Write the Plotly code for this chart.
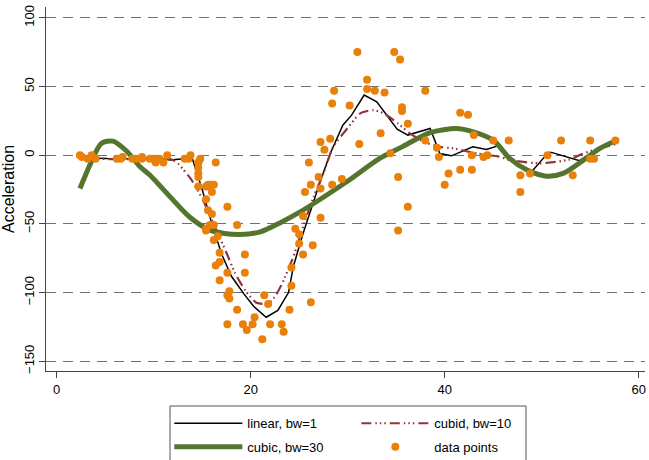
import plotly.graph_objects as go

# mcycle data points
times = [2.4, 2.6, 3.2, 3.6, 4.0, 6.2, 6.6, 6.8, 7.8, 8.2, 8.8, 8.8, 9.6, 10.0, 10.2, 10.6, 11.0, 11.4,
         13.2, 13.6, 13.8, 14.6, 14.6, 14.6, 14.6, 14.6, 14.6, 14.8, 15.4, 15.4, 15.4, 15.4, 15.6, 15.6,
         15.8, 15.8, 16.0, 16.0, 16.2, 16.2, 16.2, 16.4, 16.4, 16.6, 16.8, 16.8, 16.8, 17.6, 17.6, 17.6,
         17.6, 17.8, 17.8, 18.6, 18.6, 19.2, 19.4, 19.4, 19.6, 20.2, 20.4, 21.2, 21.4, 21.8, 22.0, 23.2,
         23.4, 24.0, 24.2, 24.2, 24.6, 25.0, 25.0, 25.4, 25.4, 25.6, 26.0, 26.2, 26.2, 26.4, 27.0, 27.2,
         27.2, 27.2, 27.6, 28.2, 28.4, 28.4, 28.6, 29.4, 30.2, 31.0, 31.2, 32.0, 32.0, 32.8, 33.4, 33.8,
         34.4, 34.8, 35.2, 35.2, 35.4, 35.6, 35.6, 36.2, 36.2, 38.0, 38.0, 39.2, 39.4, 40.0, 40.4, 41.6,
         41.6, 42.4, 42.8, 42.8, 43.0, 44.0, 44.4, 45.0, 46.6, 47.8, 47.8, 48.8, 50.6, 52.0, 53.2, 55.0,
         55.0, 55.4, 57.6]
accel = [0.0, -1.3, -2.7, 0.0, -2.7, -2.7, -2.7, -1.3, -2.7, -2.7, -1.3, -2.7, -2.7, -2.7, -5.4, -2.7,
         -5.4, 0.0, -2.7, -2.7, 0.0, -13.3, -5.4, -5.4, -9.3, -16.0, -22.8, -2.7, -22.8, -32.1, -53.5,
         -54.9, -40.2, -21.5, -21.5, -50.8, -42.9, -26.8, -21.5, -50.8, -61.7, -5.4, -80.4, -59.0, -71.0,
         -91.1, -77.7, -37.5, -85.6, -123.1, -101.9, -99.1, -104.4, -112.5, -50.8, -123.1, -85.6, -72.3,
         -127.2, -123.1, -117.9, -134.0, -101.9, -108.4, -123.1, -123.1, -128.5, -112.5, -95.1, -81.8,
         -53.5, -64.4, -57.6, -72.3, -44.3, -26.8, -5.4, -107.1, -21.5, -65.6, -16.0, -45.6, -24.2, 9.5,
         4.0, 12.0, -21.5, 37.5, 46.9, -17.4, 36.2, 75.0, 8.1, 54.9, 48.2, 46.9, 16.0, 45.6, 1.3, 75.0,
         -16.0, -54.9, 69.6, 34.8, 32.1, -37.5, 22.8, 46.9, 10.7, 5.4, -1.3, -21.5, -13.3, 30.8, -10.7,
         29.4, 0.0, -10.7, 14.7, -1.3, 0.0, 10.7, 10.7, -26.8, -14.7, -13.3, 0.0, 10.7, -14.7, -2.7, 10.7,
         -2.7, 10.7]

# smooth "linear, bw=1"
lin_x = [2.4, 3.5, 5.2, 7.0, 9.0, 10.0, 11.7, 13.4, 13.9, 15.0, 16.0, 17.0, 18.0, 19.3, 20.3, 21.6,
         22.8, 23.9, 24.4, 25.4, 26.5, 27.1, 28.2, 29.5, 30.4, 31.7, 33.0, 35.1, 36.2, 38.5, 39.5,
         40.7, 42.9, 44.3, 45.4, 46.6, 48.5, 48.8, 50.7, 51.0, 53.9, 55.0, 56.4, 57.6]
lin_y = [-1.0, -2.0, -2.4, -2.5, -2.7, -1.5, -3.6, -2.4, -0.7, -25.0, -50.0, -72.0, -88.0, -101.0,
         -110.0, -118.0, -113.0, -100.0, -81.0, -57.0, -33.0, -20.6, 1.2, 21.8, 29.1, 43.7, 38.8,
         18.9, 14.6, 19.4, 1.2, -0.5, 6.0, 4.1, 6.6, -2.0, -12.1, -13.4, 2.0, 2.0, -4.0, 1.0, 6.0, 10.0]

# smooth "cubid, bw=10"
cub10_x = [2.4, 4.0, 6.0, 8.0, 10.0, 11.8, 12.5, 13.0, 13.9, 15.1, 16.3, 17.5, 18.4, 19.5, 20.6,
           21.8, 22.5, 23.2, 24.4, 25.5, 26.5, 27.5, 28.5, 30.1, 31.3, 32.6, 33.7, 35.2, 36.4, 37.5,
           38.5, 39.5, 40.9, 43.3, 45.7, 46.7, 48.1, 49.8, 51.5, 52.9, 54.3, 56.0, 57.6]
cub10_y = [-2.0, -2.5, -3.0, -3.0, -3.0, -3.0, -6.0, -10.0, -18.0, -33.0, -52.0, -71.0, -86.0, -99.0,
           -107.5, -108.0, -103.0, -94.0, -74.0, -50.0, -30.0, -13.3, 6.0, 20.6, 30.4, 32.8, 30.4,
           23.0, 15.8, 11.0, 8.0, 6.0, 4.9, 1.2, -1.2, -3.6, -4.9, -6.0, -4.9, -3.1, 1.2, 5.0, 8.0]

# smooth "cubic, bw=30"
cub30_x = [2.4, 3.5, 4.6, 5.8, 7.2, 8.6, 9.6, 11.7, 13.7, 15.8, 17.3, 18.9, 21.0, 23.2, 25.1, 26.5,
           29.9, 33.3, 35.6, 38.5, 41.2, 42.6, 45.0, 46.7, 48.5, 50.5, 52.2, 54.3, 56.0, 57.4]
cub30_y = [-24.3, -6.0, 8.5, 10.2, 3.0, -8.5, -14.5, -30.4, -45.0, -54.6, -57.0, -57.8, -55.8, -48.6,
           -41.3, -35.2, -19.4, -2.4, 6.0, 16.4, 19.4, 17.7, 10.9, -2.4, -10.9, -15.3, -13.3, -3.6,
           4.9, 9.7]

fig = go.Figure()
fig.add_trace(go.Scatter(x=lin_x, y=lin_y, mode="lines", name="linear, bw=1", legend="legend",
                         line=dict(color="black", width=1.5)))
fig.add_trace(go.Scatter(x=cub10_x, y=cub10_y, mode="lines", name="cubid, bw=10", legend="legend",
                         line=dict(color="#90353B", width=2.2, shape="spline", smoothing=0.6,
                                   dash="10px,4px,1.5px,3px,1.5px,3px,1.5px,4px")))
fig.add_trace(go.Scatter(x=cub30_x, y=cub30_y, mode="lines", name="cubic, bw=30", legend="legend2",
                         line=dict(color="#55752F", width=5, shape="spline", smoothing=0.8)))
fig.add_trace(go.Scatter(x=times, y=accel, mode="markers", name="data points", legend="legend2",
                         marker=dict(color="#E8800A", size=8)))

axis_col = "#444444"
leg_common = dict(orientation="h", xref="container", yref="container",
                  x=0.2609, xanchor="left", yanchor="middle",
                  borderwidth=0, bgcolor="rgba(0,0,0,0)",
                  entrywidth=104, entrywidthmode="pixels", itemwidth=68,
                  traceorder="normal", font=dict(size=13))
fig.update_layout(
    width=649, height=460,
    margin=dict(l=46, r=4, t=7, b=89, autoexpand=False),
    plot_bgcolor="white", paper_bgcolor="white",
    font=dict(family="Liberation Sans, Arial, sans-serif", size=13, color="black"),
    showlegend=True,
    legend=dict(y=1 - 423.3 / 460, **leg_common),
    legend2=dict(y=1 - 446.7 / 460, **leg_common),
    shapes=[dict(type="rect", xref="paper", yref="paper",
                 x0=(170 - 46) / 599, x1=(526 - 46) / 599,
                 y0=(371 - 406) / 364, y1=(371 - 466) / 364,
                 line=dict(color="#555555", width=1), fillcolor="rgba(0,0,0,0)", layer="below")],
)
fig.update_xaxes(range=[-1.1, 60.65], showline=True, linecolor=axis_col, linewidth=1,
                 ticks="outside", ticklen=6, tickcolor=axis_col, tickvals=[0, 20, 40, 60],
                 showgrid=False, zeroline=False, automargin=False)
fig.update_yaxes(range=[-157.1, 107.8], showline=True, linecolor=axis_col, linewidth=1,
                 ticks="outside", ticklen=6, tickcolor=axis_col,
                 tickvals=[-150, -100, -50, 0, 50, 100], tickangle=-90,
                 showgrid=True, gridcolor="#707070", gridwidth=1, griddash="10px,7px",
                 zeroline=False, automargin=False,
                 title=dict(text="Acceleration", standoff=3))

fig.write_html("out.html", config={"displayModeBar": False},
               post_script="document.body.style.margin='0';")
